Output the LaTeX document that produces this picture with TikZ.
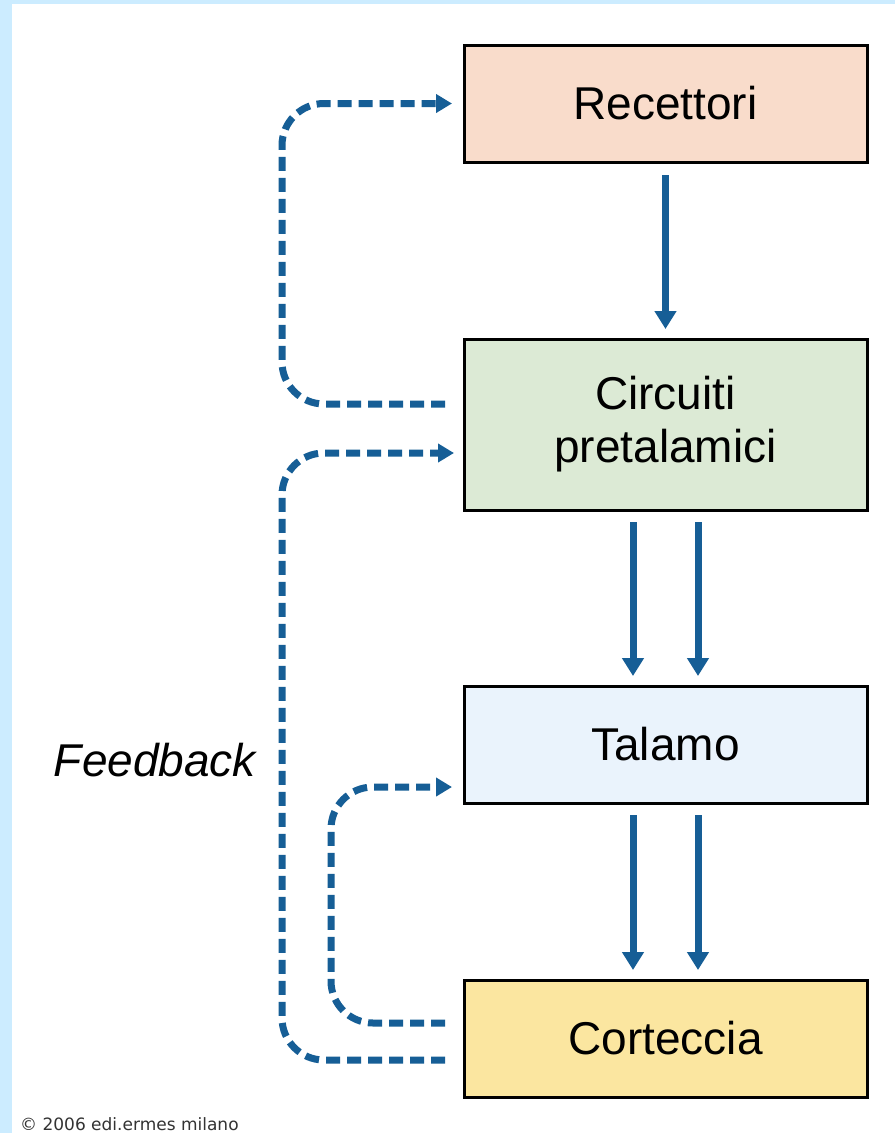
\documentclass[tikz,border=0pt]{standalone}
\usepackage{fontspec}
\setmainfont{Liberation Sans}
\newfontfamily\copyfont{DejaVu Sans}
\usetikzlibrary{arrows.meta,calc}
\definecolor{bgblue}{RGB}{204,236,255}
\definecolor{arrblue}{RGB}{22,94,150}
\definecolor{peach}{RGB}{249,220,203}
\definecolor{palegreen}{RGB}{220,234,213}
\definecolor{paleblue}{RGB}{234,243,252}
\definecolor{paleyellow}{RGB}{251,230,160}
\tikzset{
  box/.style={draw=black,line width=3pt,minimum width=403pt,minimum height=117pt,inner sep=0pt,outer sep=0pt,align=center,font=\fontsize{46}{53}\selectfont},
  flow/.style={draw=arrblue,line width=7pt,-{Triangle[width=21pt,length=18pt]}},
  fb/.style={draw=arrblue,line width=7pt,dash pattern=on 14pt off 7pt,rounded corners=42pt,-{Triangle[width=18pt,length=16pt]}}
}
\begin{document}
\begin{tikzpicture}[x=1pt,y=-1pt]
\useasboundingbox (0,0) rectangle (895,1133);
\fill[white] (0,0) rectangle (895,1133);
\fill[bgblue] (0,0) rectangle (895,4);
\fill[bgblue] (0,0) rectangle (12,1133);

\node[box,fill=peach] (rec) at (665.5,103.5) {Recettori};
\node[box,fill=palegreen,minimum height=171pt] (circ) at (665.5,424.5) {Circuiti\\pretalamici};
\node[box,fill=paleblue] (tal) at (665.5,744.5) {Talamo};
\node[box,fill=paleyellow] (cort) at (665.5,1038.5) {Corteccia};

\node[font=\fontsize{46}{53}\selectfont\itshape] (fbl) at (155,760) {Feedback};
\node[font=\fontsize{17}{20}\selectfont\copyfont,text=black!80,anchor=west,inner sep=0pt] (copy) at (20,1124) {© 2006 edi.ermes milano};

\coordinate (outer) at (282,0);
\coordinate (inner) at (331,0);

% solid flow arrows
\draw[flow] ($(rec.south)+(0,13)$) -- ($(circ.north)+(0,-10)$);
\draw[flow] ($(circ.south)+(-32.5,12)$) -- ($(tal.north)+(-32.5,-10)$);
\draw[flow] ($(circ.south)+(32.5,12)$) -- ($(tal.north)+(32.5,-10)$);
\draw[flow] ($(tal.south)+(-32.5,12)$) -- ($(cort.north)+(-32.5,-10)$);
\draw[flow] ($(tal.south)+(32.5,12)$) -- ($(cort.north)+(32.5,-10)$);

% feedback dashed arrows
\draw[fb] ($(circ.west)+(-19,-20.5)$) -| (outer |- rec.west) -- ($(rec.west)+(-12,0)$);
\draw[fb] ($(cort.west)+(-19,21.5)$) -| ($(outer |- circ.west)+(0,28.5)$) -- ($(circ.west)+(-10,28.5)$);
\draw[fb] ($(cort.west)+(-19,-15.5)$) -| ($(inner |- tal.west)+(0,42.5)$) -- ($(tal.west)+(-12,42.5)$);
\end{tikzpicture}
\end{document}
